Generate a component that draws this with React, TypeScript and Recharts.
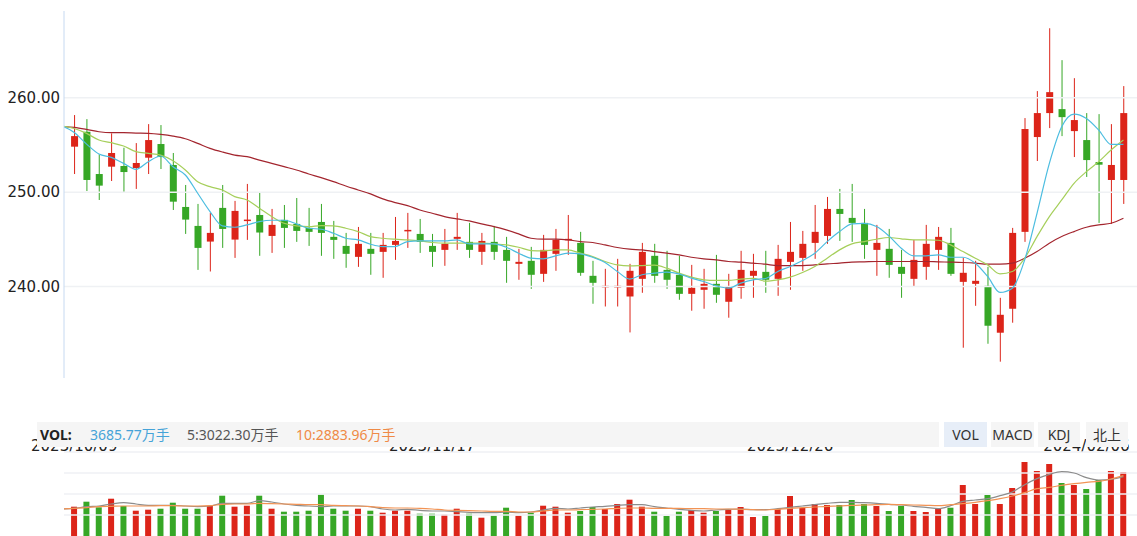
import React from 'react';
import { ComposedChart, Bar, Line, XAxis, YAxis, ReferenceLine, Cell } from 'recharts';

// daily candles, 2023/10/09 .. 2024/02/06
const opens = [254.82, 256.40, 251.92, 252.70, 252.77, 252.56, 253.65, 255.10, 252.88, 248.43,
  246.42, 244.76, 248.33, 244.97, 246.95, 247.58, 245.36, 247.06, 246.63, 246.21,
  246.84, 245.26, 244.30, 243.14, 243.99, 243.67, 244.41, 245.93, 245.57, 244.30,
  243.88, 245.05, 244.73, 243.67, 244.73, 243.88, 242.40, 242.72, 241.34, 243.46,
  244.94, 244.62, 241.13, 240.00, 239.90, 238.94, 240.81, 243.25, 241.76, 241.24,
  239.22, 239.65, 240.28, 238.38, 239.86, 241.13, 241.55, 240.81, 242.61, 243.03,
  244.62, 245.36, 248.22, 247.27, 246.74, 243.88, 243.99, 242.08, 240.81, 242.08,
  243.88, 244.62, 240.49, 240.28, 240.07, 235.10, 237.64, 245.79, 255.84, 258.38,
  258.80, 256.47, 255.52, 253.19, 251.29, 251.29];
const highs = [258.17, 257.74, 254.00, 256.23, 254.71, 255.20, 257.21, 257.11, 254.15, 250.76,
  248.75, 247.80, 250.76, 249.07, 250.87, 249.91, 248.22, 248.64, 249.38, 248.33,
  248.75, 246.95, 245.68, 246.31, 245.68, 245.68, 247.37, 247.80, 247.16, 245.57,
  246.10, 247.80, 246.74, 245.68, 246.42, 245.26, 243.99, 244.20, 245.47, 246.10,
  247.58, 245.79, 242.72, 241.87, 242.93, 242.40, 244.62, 244.52, 243.78, 243.25,
  242.29, 241.87, 243.35, 241.34, 243.78, 243.46, 243.78, 244.41, 246.84, 245.89,
  248.64, 249.49, 250.34, 250.87, 248.22, 246.53, 246.10, 243.88, 244.94, 246.53,
  246.31, 246.21, 243.03, 242.72, 242.08, 238.80, 246.21, 257.85, 260.71, 267.37,
  263.99, 262.08, 258.38, 258.27, 257.21, 261.24];
const lows = [251.92, 250.12, 249.17, 251.18, 250.02, 250.34, 251.92, 252.45, 248.11, 245.57,
  241.76, 241.59, 244.09, 243.03, 244.94, 243.25, 243.56, 244.09, 244.73, 244.30,
  243.25, 242.93, 241.98, 242.08, 241.24, 240.92, 242.82, 244.09, 243.56, 242.08,
  242.19, 243.88, 243.03, 242.29, 242.82, 240.39, 240.71, 239.75, 240.49, 241.66,
  243.35, 241.13, 238.17, 237.88, 237.88, 235.13, 239.33, 240.39, 239.75, 238.59,
  237.43, 237.64, 238.27, 236.69, 238.70, 238.80, 239.33, 239.01, 239.65, 241.66,
  242.93, 244.52, 244.83, 244.73, 242.93, 241.13, 240.92, 238.80, 240.00, 240.71,
  241.76, 241.13, 233.51, 237.95, 233.93, 232.03, 236.16, 244.73, 253.30, 256.79,
  255.94, 253.72, 251.61, 246.74, 246.63, 248.75];
const closes = [255.94, 251.29, 250.69, 254.15, 252.13, 253.09, 255.52, 253.72, 248.99, 247.09,
  244.09, 245.68, 246.10, 248.01, 247.09, 245.72, 246.53, 246.21, 245.89, 245.79,
  245.68, 244.94, 243.46, 244.52, 243.46, 244.41, 244.83, 246.00, 244.73, 243.67,
  244.52, 245.26, 243.88, 244.83, 243.67, 242.72, 242.61, 241.24, 243.88, 244.94,
  245.05, 241.45, 240.39, 240.07, 240.07, 241.66, 243.67, 241.13, 240.71, 239.22,
  239.86, 240.28, 239.12, 239.96, 241.76, 241.66, 240.71, 242.93, 243.67, 244.52,
  245.79, 248.22, 247.69, 246.74, 244.41, 244.62, 242.29, 241.34, 242.82, 244.52,
  245.26, 241.34, 241.45, 240.60, 235.84, 237.00, 245.68, 256.69, 258.38, 260.60,
  257.95, 257.64, 253.40, 252.91, 252.88, 258.38];

// volume, 万手
const vols = [1688, 1976, 1653, 2148, 1728, 1457, 1515, 1572, 1918, 1572,
  1572, 1728, 2321, 1688, 1745, 2321, 1572, 1400, 1400, 1457,
  2379, 1572, 1457, 1572, 1457, 1342, 1457, 1457, 1284, 1284,
  1227, 1572, 1284, 1054, 1169, 1630, 1169, 1342, 1745, 1688,
  1342, 1440, 1670, 1555, 1843, 2091, 1688, 1400, 1152, 1400,
  1498, 1342, 1440, 1498, 1670, 1094, 1152, 1555, 2304, 1613,
  1843, 1786, 1786, 2074, 1843, 1728, 1440, 1728, 1440, 1382,
  1555, 1630, 2938, 1843, 2362, 1843, 2765, 4262, 3744, 4147,
  3053, 2938, 2707, 3226, 3744, 3685.77];

// moving averages as drawn; first value belongs to the day before the window
const ma5 = [257.00, 256.33, 255.09, 254.04, 253.69, 253.05, 252.42, 253.23, 253.83, 252.70, 251.82,
  249.88, 247.94, 246.42, 246.28, 246.53, 246.88, 247.02, 247.02, 246.63, 246.17,
  246.07, 245.64, 245.11, 244.94, 244.48, 244.23, 244.23, 244.76, 244.83, 244.83,
  244.83, 244.94, 244.52, 244.52, 244.52, 244.16, 243.53, 243.00, 242.93, 243.25,
  243.53, 243.46, 243.10, 242.54, 241.59, 240.78, 241.24, 241.41, 241.52, 241.34,
  240.88, 240.53, 240.07, 239.83, 240.35, 240.71, 240.85, 241.59, 242.12, 242.75,
  243.53, 244.76, 245.82, 246.63, 246.70, 246.35, 245.36, 244.06, 243.25, 243.25,
  243.35, 243.10, 243.10, 242.47, 241.06, 239.37, 239.82, 242.82, 247.76, 253.05,
  256.93, 258.27, 257.81, 256.58, 255.06, 255.06];
const ma10 = [257.00, 256.75, 256.23, 255.52, 255.24, 254.89, 254.29, 254.11, 253.93, 253.33, 252.35,
  251.11, 250.58, 250.23, 249.53, 249.17, 248.29, 247.41, 246.70, 246.42, 246.35,
  246.46, 246.42, 246.17, 245.82, 245.29, 245.11, 245.01, 244.94, 244.83, 244.66,
  244.59, 244.59, 244.59, 244.59, 244.52, 244.41, 244.16, 243.81, 243.78, 243.88,
  243.88, 243.53, 243.17, 242.65, 242.29, 242.19, 242.22, 242.26, 241.94, 241.41,
  240.99, 240.71, 240.64, 240.64, 240.78, 240.85, 240.57, 240.71, 240.99, 241.48,
  242.12, 243.00, 243.88, 244.52, 244.76, 245.01, 245.19, 245.05, 244.94, 244.94,
  244.90, 244.41, 243.70, 243.00, 242.29, 241.34, 241.59, 243.00, 245.29, 247.41,
  249.17, 250.94, 252.17, 253.23, 254.46, 255.52];
const ma30 = [256.97, 256.86, 256.65, 256.40, 256.30, 256.30, 256.26, 256.23, 256.12, 255.94, 255.66,
  255.17, 254.64, 254.25, 253.93, 253.76, 253.40, 253.05, 252.70, 252.35, 251.92,
  251.54, 251.11, 250.65, 250.23, 249.81, 249.28, 248.89, 248.57, 248.11, 247.76,
  247.41, 247.16, 246.95, 246.63, 246.35, 246.00, 245.57, 245.11, 245.01, 245.01,
  244.94, 244.76, 244.66, 244.41, 244.13, 243.95, 243.88, 243.70, 243.53, 243.35,
  243.10, 242.93, 242.82, 242.65, 242.58, 242.47, 242.36, 242.22, 242.22, 242.22,
  242.29, 242.40, 242.47, 242.58, 242.61, 242.65, 242.65, 242.65, 242.65, 242.65,
  242.61, 242.58, 242.54, 242.47, 242.36, 242.36, 242.47, 243.00, 243.70, 244.59,
  245.29, 245.82, 246.28, 246.53, 246.70, 247.23];
const volMa5 = [1555, 1594, 1690, 1728, 1843, 1920, 1843, 1766, 1766, 1766, 1728,
  1690, 1728, 1882, 1882, 1882, 2035, 1958, 1843, 1766, 1728,
  1690, 1728, 1728, 1728, 1690, 1555, 1498, 1536, 1478, 1440,
  1440, 1402, 1363, 1344, 1344, 1382, 1344, 1382, 1498, 1594,
  1555, 1613, 1670, 1709, 1766, 1805, 1805, 1690, 1613, 1536,
  1478, 1440, 1498, 1536, 1555, 1517, 1517, 1574, 1651, 1728,
  1805, 1882, 1939, 1939, 1920, 1882, 1824, 1786, 1709, 1651,
  1574, 1747, 1997, 2074, 2150, 2323, 2534, 2957, 3302, 3552,
  3706, 3629, 3360, 3226, 3264, 3418];
const volMa10 = [1555, 1594, 1632, 1690, 1709, 1728, 1728, 1728, 1747, 1747, 1728,
  1728, 1747, 1824, 1843, 1843, 1882, 1862, 1843, 1824, 1805,
  1805, 1766, 1747, 1728, 1690, 1632, 1613, 1613, 1594, 1555,
  1498, 1478, 1459, 1440, 1421, 1421, 1382, 1382, 1440, 1498,
  1498, 1517, 1536, 1555, 1594, 1613, 1613, 1594, 1594, 1594,
  1574, 1574, 1555, 1555, 1536, 1517, 1498, 1536, 1594, 1632,
  1670, 1709, 1728, 1766, 1786, 1805, 1824, 1805, 1786, 1766,
  1747, 1805, 1862, 1939, 2035, 2150, 2304, 2496, 2726, 2803,
  2918, 3014, 3091, 3149, 3283, 3475];

const tickIdx = [0, 29, 58, 82];
const tickDates = ['2023/10/09', '2023/11/17', '2023/12/26', '2024/02/06'];
const priceTicks = [240, 250, 260];
const volTicks = [1209.6, 2419.2, 3628.8, 4838.4];

const UP = '#dc2419';
const DOWN = '#36a726';
const GRID = '#eff1f4';
const xDomain = [-0.83, 86.1];

const rows = ma5.map((_, k) => {
  const i = k - 1;
  const row: any = { i, ma5: ma5[k], ma10: ma10[k], ma30: ma30[k], vma5: volMa5[k], vma10: volMa10[k] };
  if (i >= 0) {
    row.o = opens[i];
    row.h = highs[i];
    row.l = lows[i];
    row.c = closes[i];
    row.range = [lows[i], highs[i]];
    row.vol = vols[i];
  }
  return row;
});

const Candle = (props: any) => {
  const { x, y, width, height, payload } = props;
  if (!payload || payload.o == null || !isFinite(y)) return <g />;
  const { o, h, l, c } = payload;
  const span = h - l || 1;
  const toY = (v: number) => y + ((h - v) / span) * height;
  const color = c >= o ? UP : DOWN;
  const cx = x + width / 2;
  const top = toY(Math.max(o, c));
  const bodyH = Math.max(1.5, toY(Math.min(o, c)) - top);
  return (
    <g>
      <line x1={cx} x2={cx} y1={y} y2={y + height} stroke={color} strokeWidth={1} />
      <rect x={x} y={top} width={width} height={bodyH} fill={color} />
    </g>
  );
};

const axisFont = { fontSize: 15, fill: '#222', fontFamily: 'DejaVu Sans' };
const uiFont = '"Noto Sans", "Noto Sans CJK SC", sans-serif';

const btn = (left: number, width: number, bg: string) => ({
  position: 'absolute' as const, left, top: 422, width, height: 25, lineHeight: '25px',
  background: bg, textAlign: 'center' as const, fontSize: 14, color: '#333', fontFamily: uiFont,
});

export default function App() {
  return (
    <div style={{ position: 'absolute', left: 0, top: 0, width: 1137, height: 536, background: '#fff', overflow: 'hidden' }}>
      <div style={{ position: 'absolute', left: 0, top: 0 }}>
        <ComposedChart width={1137} height={460} data={rows} margin={{ top: 11, right: 0, bottom: 0, left: 0 }}>
          <XAxis dataKey="i" type="number" domain={xDomain} allowDataOverflow ticks={tickIdx} interval={0}
            tickFormatter={(v: number) => tickDates[tickIdx.indexOf(v)] ?? ''}
            axisLine={false} tickLine={false} tickSize={0} tickMargin={62} height={82} tick={axisFont} />
          <YAxis domain={[230.3, 269.2]} allowDataOverflow ticks={priceTicks} tickFormatter={(v: number) => v.toFixed(2)}
            width={64} axisLine={{ stroke: '#c6d9f1' }} tickLine={false} tickSize={0} tickMargin={4} tick={axisFont} />
          {priceTicks.map((v) => <ReferenceLine key={v} y={v} stroke={GRID} strokeWidth={1.5} />)}
          <Bar dataKey="range" barSize={7} shape={<Candle />} isAnimationActive={false} />
          <Line dataKey="ma30" type="monotone" stroke="#a3252e" strokeWidth={1.2} dot={false} isAnimationActive={false} />
          <Line dataKey="ma10" type="monotone" stroke="#a6cf5b" strokeWidth={1.2} dot={false} isAnimationActive={false} />
          <Line dataKey="ma5" type="monotone" stroke="#4cbde0" strokeWidth={1.2} dot={false} isAnimationActive={false} />
        </ComposedChart>
      </div>
      <div style={{ position: 'absolute', left: 0, top: 440 }}>
        <ComposedChart width={1137} height={96} data={rows} margin={{ top: 12, right: 0, bottom: 0, left: 64 }}>
          <XAxis dataKey="i" type="number" domain={xDomain} allowDataOverflow hide />
          <YAxis hide domain={[0, 4838.4]} allowDataOverflow />
          {volTicks.map((v) => <ReferenceLine key={v} y={v} stroke={GRID} strokeWidth={1.5} />)}
          <Bar dataKey="vol" barSize={6} isAnimationActive={false}>
            {rows.map((r) => <Cell key={r.i} fill={r.c >= r.o ? UP : DOWN} />)}
          </Bar>
          <Line dataKey="vma5" type="monotone" stroke="#8c8c8c" strokeWidth={1.2} dot={false} isAnimationActive={false} />
          <Line dataKey="vma10" type="monotone" stroke="#f29354" strokeWidth={1.2} dot={false} isAnimationActive={false} />
        </ComposedChart>
      </div>
      <div style={{ position: 'absolute', left: 37, top: 422, width: 902, height: 25, background: '#f5f5f5', fontFamily: uiFont, fontSize: 14, lineHeight: '25px' }}>
        <span style={{ position: 'absolute', left: 3, fontWeight: 700, color: '#222' }}>VOL:</span>
        <span style={{ position: 'absolute', left: 53, color: '#45a3d8' }}>3685.77万手</span>
        <span style={{ position: 'absolute', left: 150, color: '#555' }}>5:3022.30万手</span>
        <span style={{ position: 'absolute', left: 259, color: '#ef8a46' }}>10:2883.96万手</span>
      </div>
      <div style={btn(944, 43, '#e7eef8')}>VOL</div>
      <div style={btn(991, 43, '#f5f5f5')}>MACD</div>
      <div style={btn(1038, 42, '#f5f5f5')}>KDJ</div>
      <div style={btn(1086, 42, '#f5f5f5')}>北上</div>
    </div>
  );
}
